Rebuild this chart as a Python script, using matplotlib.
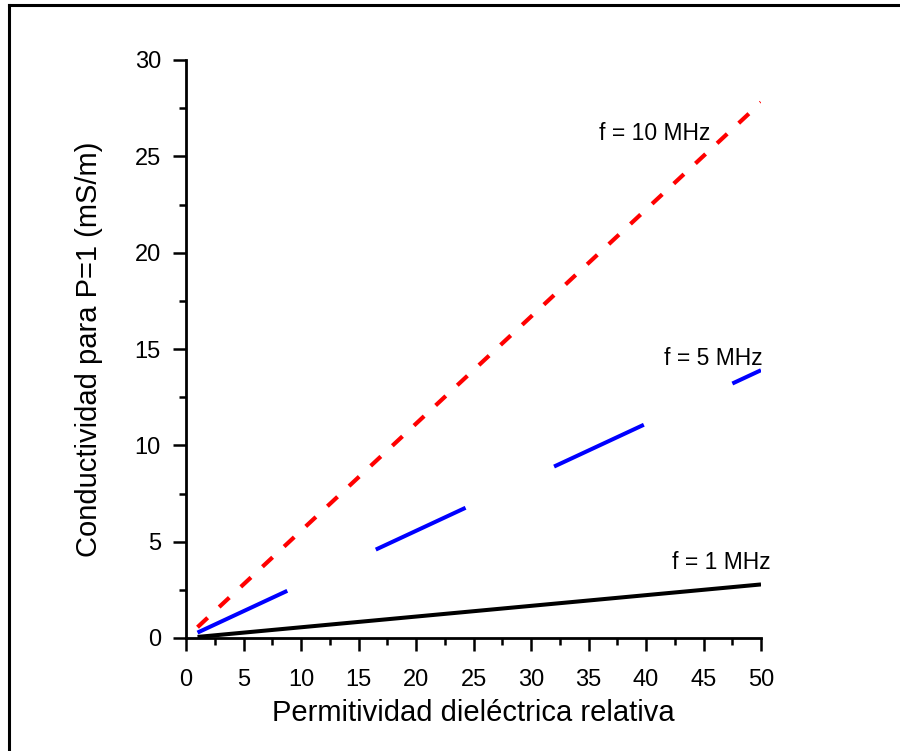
import matplotlib
matplotlib.use("Agg")
import matplotlib.pyplot as plt
from matplotlib.lines import Line2D
from matplotlib.ticker import MultipleLocator

plt.rcParams['font.family'] = ['Liberation Sans', 'DejaVu Sans']
plt.rcParams['lines.scale_dashes'] = False

# Data
permitividad = [1, 50]
sigma_1mhz = [0.056, 2.78]
sigma_5mhz = [0.28, 13.9]
sigma_10mhz = [0.56, 27.8]
labels = ["f = 1 MHz", "f = 5 MHz", "f = 10 MHz"]
xticks = [0, 5, 10, 15, 20, 25, 30, 35, 40, 45, 50]
yticks = [0, 5, 10, 15, 20, 25, 30]

W, H, DPI = 900, 751, 100
fig = plt.figure(figsize=(W / DPI, H / DPI), dpi=DPI)
ax = fig.add_axes([186 / W, 1 - 638 / H, (761 - 186) / W, (638 - 60) / H])

ax.plot(permitividad, sigma_1mhz, color='black', lw=2.9, solid_capstyle='butt')
ax.plot(permitividad, sigma_5mhz, color='#0000ff', lw=2.9, dashes=(71.3, 70.3),
        dash_capstyle='butt')
ax.plot(permitividad, sigma_10mhz, color='#ff0000', lw=3.0, dashes=(10.0, 11.3),
        dash_capstyle='butt')

ax.set_xlim(0, 50)
ax.set_ylim(0, 30)
ax.set_xticks(xticks)
ax.set_yticks(yticks)
ax.xaxis.set_minor_locator(MultipleLocator(2.5))
ax.yaxis.set_minor_locator(MultipleLocator(2.5))

for s in ['top', 'right']:
    ax.spines[s].set_visible(False)
for s in ['left', 'bottom']:
    ax.spines[s].set_linewidth(2.0)
ax.spines['left'].set_bounds(0, 30)
ax.spines['bottom'].set_bounds(0, 50)

ax.tick_params(which='major', direction='out', length=9.5, width=1.8,
               labelsize=17, pad=8.5)
ax.tick_params(which='minor', direction='out', length=5, width=1.8)
ax.tick_params(axis='x', which='major', pad=13)

ax.set_xlabel("Permitividad dieléctrica relativa", fontsize=21, labelpad=5.5)
ax.set_ylabel("Conductividad para P=1 (mS/m)", fontsize=21, labelpad=23)

ax.text(50.85, 3.9, labels[0], fontsize=16.5, ha='right', va='center')
ax.text(50.1, 14.5, labels[1], fontsize=16.5, ha='right', va='center')
ax.text(45.6, 26.2, labels[2], fontsize=16.5, ha='right', va='center')

# outer frame (partially visible: top and left edges)
fig.add_artist(Line2D([9 / W, 9 / W], [0, 1 - 4.5 / H], transform=fig.transFigure,
                      color='black', lw=2.2))
fig.add_artist(Line2D([9 / W, 1], [1 - 4.5 / H, 1 - 4.5 / H], transform=fig.transFigure,
                      color='black', lw=2.2))

fig.savefig("out.png", dpi=DPI)
